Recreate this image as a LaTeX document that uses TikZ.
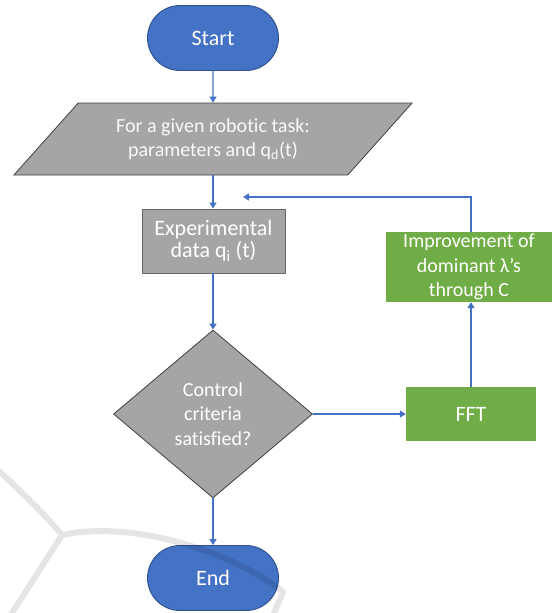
\documentclass[tikz,border=0pt]{standalone}
\usepackage{fontspec}
\setmainfont{Carlito}[Ligatures=CommonOff]
\usetikzlibrary{shapes.geometric,shapes.misc,arrows.meta}
\definecolor{oblue}{HTML}{4472C4}
\definecolor{obluedark}{HTML}{2F528F}
\definecolor{ogray}{HTML}{A5A5A5}
\definecolor{ograydark}{HTML}{404040}
\definecolor{ogreen}{HTML}{70AD47}
\definecolor{arrowblue}{HTML}{4472C4}
\tikzset{
  x=1pt, y=-1pt,
  txt/.style={text=white, font=\fontsize{20}{24.5}\selectfont, align=center, inner sep=0pt},
  terminal/.style={txt, rounded rectangle, fill=oblue, draw=obluedark, line width=0.9pt,
    minimum width=131pt, minimum height=65pt, font=\fontsize{22}{26}\selectfont},
  iobox/.style={txt, trapezium, trapezium left angle=42, trapezium right angle=138,
    trapezium stretches=true, fill=ogray, draw=ograydark, line width=0.8pt,
    minimum width=400pt, minimum height=72pt, text=white!95!gray},
  procbox/.style={txt, rectangle, fill=ogray, draw=ograydark!80, line width=0.9pt,
    minimum width=143pt, minimum height=64pt, font=\fontsize{22}{22}\selectfont},
  decision/.style={txt, diamond, fill=ogray, draw=ograydark, line width=0.8pt,
    minimum width=199pt, minimum height=168pt},
  greenbox/.style={txt, rectangle, fill=ogreen},
  flow/.style={draw=arrowblue, line width=1.3pt, -{Triangle[width=7pt,length=6pt]}},
  watermark/.style={draw=black, line width=6pt, line cap=round, line join=round}
}
\begin{document}
\begin{tikzpicture}
\useasboundingbox (0,0) rectangle (552,613);
\node[terminal] (start) at (213,38) {Start};
\node[iobox] (task) at (213,139) {For a given robotic task:\\parameters and q\textsubscript{d}(t)};
\node[procbox] (exp) at (213.5,241) {Experimental\\data q\textsubscript{i} (t)};
\node[decision] (crit) at (213,414) {Control\\criteria\\satisfied?};
\node[greenbox, minimum width=130pt, minimum height=54pt, font=\fontsize{22}{26}\selectfont] (fft) at (471,414) {FFT};
\node[greenbox, minimum width=166pt, minimum height=70pt] (impr) at (469,267) {Improvement of\\dominant λ’s\\through C};
\node[terminal] (end) at (213,578) {End};
\coordinate (fb) at (243,197);

\draw[flow] (start.south) -- (task.north);
\draw[flow] (task.south) -- (exp.north -| task.south);
\draw[flow] (exp.south -| crit.north) -- (crit.north);
\draw[flow] (crit.east) -- (fft.west);
\draw[flow] (fft.north) -- (impr.south -| fft.north);
\draw[flow] (impr.north -| fft.north) |- (fb);
\draw[flow] (crit.south) -- (end.north);

\begin{scope}[transparency group, opacity=0.10]
\draw[watermark] (0,472) .. controls (25,495) and (45,515) .. (62,535)
  .. controls (130,520) and (230,550) .. (283,592) -- (274,613)
  (62,535) -- (12,613);
\end{scope}
\end{tikzpicture}
\end{document}
